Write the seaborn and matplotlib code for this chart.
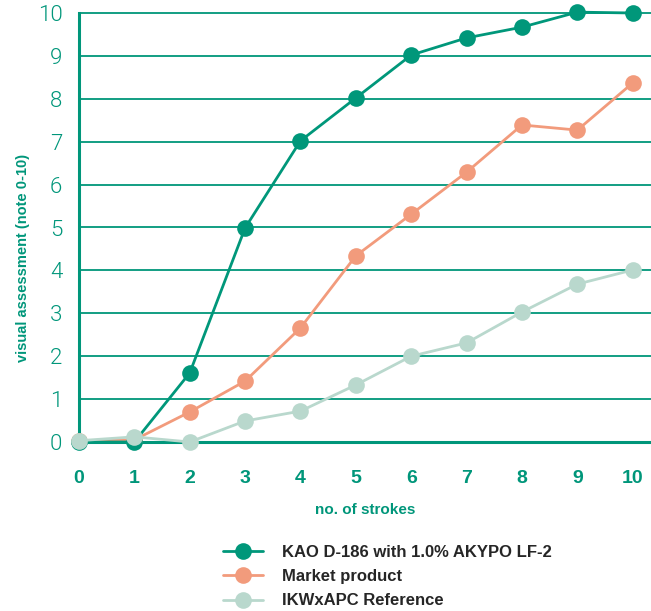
import matplotlib
matplotlib.use("Agg")
import matplotlib.pyplot as plt
import seaborn as sns
import pandas as pd
from matplotlib.lines import Line2D

strokes = [0, 1, 2, 3, 4, 5, 6, 7, 8, 9, 10]
kao = [0.0, 0.0, 1.61, 4.99, 7.02, 8.02, 9.02, 9.42, 9.67, 10.02, 10.0]
market = [0.02, 0.05, 0.70, 1.42, 2.66, 4.34, 5.31, 6.29, 7.39, 7.27, 8.37]
ikw = [0.03, 0.12, 0.0, 0.49, 0.72, 1.33, 2.0, 2.31, 3.03, 3.68, 4.01]
series_names = ["KAO D-186 with 1.0% AKYPO LF-2", "Market product", "IKWxAPC Reference"]
colors = ["#00977A", "#F29B7C", "#B9D8CD"]
teal = "#00967A"

df = pd.DataFrame({
    "strokes": strokes * 3,
    "value": kao + market + ikw,
    "series": [series_names[0]] * 11 + [series_names[1]] * 11 + [series_names[2]] * 11,
})

sns.set_style("white")
plt.rcParams["font.family"] = ["Liberation Sans", "DejaVu Sans"]

fig = plt.figure(figsize=(6.51, 6.11), dpi=100)
ax = fig.add_axes([79 / 651, 169 / 611, 1 - 79 / 651, (442 - 13) / 611])

for y in range(1, 11):
    ax.axhline(y, color=teal, lw=1.3, zorder=0.5)

sns.lineplot(data=df, x="strokes", y="value", hue="series",
             hue_order=series_names, palette=colors, marker="o",
             markersize=12, markeredgewidth=0, linewidth=2.0,
             ax=ax, legend=False)
for ln in ax.lines:
    ln.set_clip_on(False)
data_lines = [l for l in ax.lines if len(l.get_xdata()) == 11]
for l, z in zip(data_lines, [5, 4, 6]):
    l.set_zorder(z)

ax.set_xlim(0, 10.33)
ax.set_ylim(0, 10)
ax.set_xticks(strokes)
ax.set_yticks(range(0, 11))
ax.tick_params(axis="y", length=0, labelcolor=teal, pad=12)
ax.tick_params(axis="x", length=0, labelsize=14, labelcolor=teal, pad=20)
for t in ax.get_yticklabels():
    t.set_fontfamily(["Roboto", "DejaVu Sans"])
    t.set_fontweight(300)
    t.set_fontsize(16)
for t in ax.get_xticklabels():
    t.set_fontweight("bold")
for s in ["top", "right"]:
    ax.spines[s].set_visible(False)
for s in ["left", "bottom"]:
    ax.spines[s].set_color(teal)
    ax.spines[s].set_linewidth(2.2)
ax.set_xlabel("no. of strokes", color=teal, fontsize=11, fontweight="bold", labelpad=12)
ax.set_ylabel("visual assessment (note 0-10)", color=teal, fontsize=10.5, fontweight="bold")
ax.yaxis.set_label_coords(-0.085, 0.43)

handles = [Line2D([0], [0], color=c, lw=2.0, marker="o", markersize=12, markeredgewidth=0)
           for c in colors]
fig.legend(handles, series_names, loc="upper left", bbox_to_anchor=(208 / 651, 1 - 530 / 611),
           frameon=False, handlelength=2.4, handletextpad=1.15,
           labelspacing=0.55, prop={"weight": "bold", "size": 12})

fig.savefig("out.png", dpi=100)
